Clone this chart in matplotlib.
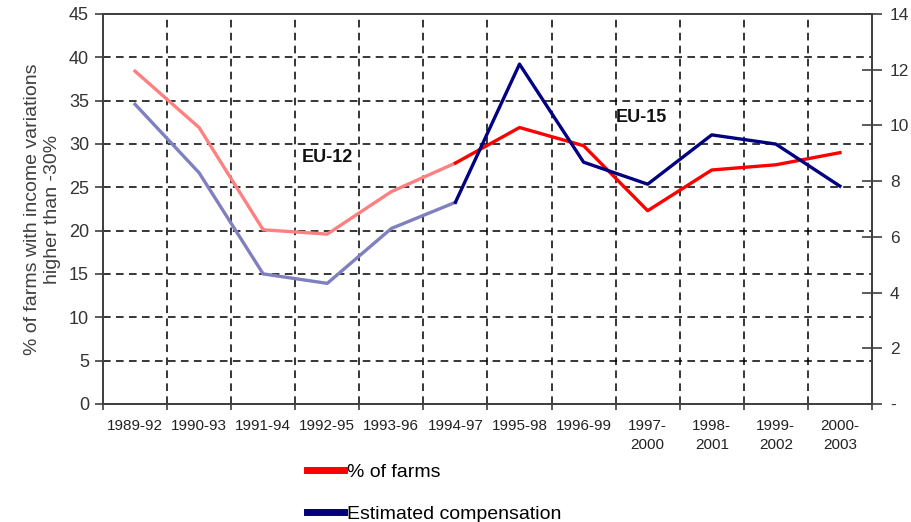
import numpy as np
import matplotlib.pyplot as plt
from matplotlib.lines import Line2D

plt.rcParams['font.family'] = ['Liberation Sans', 'DejaVu Sans']

periods = ['1989-92', '1990-93', '1991-94', '1992-95', '1993-96', '1994-97',
           '1995-98', '1996-99', '1997-\n2000', '1998-\n2001', '1999-\n2002', '2000-\n2003']

# share of farms with income drop beyond -30% (left axis)
pct_farms = [38.4, 31.9, 20.1, 19.6, 24.5, 27.8, 31.9, 29.8, 22.3, 27.0, 27.6, 29.0]
# estimated compensation (right axis)
compensation = [10.76, 8.3, 4.67, 4.33, 6.3, 7.24, 12.2, 8.68, 7.89, 9.66, 9.33, 7.82]

eu12_end = 5  # last EU-12 period index (1994-97)

red_light, red_dark = '#ff8080', '#ff0000'
blue_light, blue_dark = '#8080c0', '#000080'
axis_col = '#404040'

fig = plt.figure(figsize=(9.12, 5.22), dpi=100)
ax = fig.add_axes([0.1129, 0.2261, 0.8432, 0.7471])
ax2 = ax.twinx()

x = np.arange(len(periods))

ax.plot(x[:eu12_end + 1], pct_farms[:eu12_end + 1], color=red_light, lw=2.4, zorder=3)
ax.plot(x[eu12_end:], pct_farms[eu12_end:], color=red_dark, lw=2.4, zorder=3)
ax2.plot(x[:eu12_end + 1], compensation[:eu12_end + 1], color=blue_light, lw=2.4, zorder=3)
ax2.plot(x[eu12_end:], compensation[eu12_end:], color=blue_dark, lw=2.4, zorder=3)

ax.set_xlim(-0.5, len(periods) - 0.5)
ax.set_ylim(0, 45)
ax2.set_ylim(0, 14)

# dashed grid: horizontal on left ticks, vertical on period boundaries
for v in range(5, 45, 5):
    ax.axhline(v, color='black', lw=1.1, ls=(0, (5, 3.5)), zorder=1)
for b in np.arange(0.5, len(periods) - 1, 1.0):
    ax.axvline(b, color='black', lw=1.1, ls=(0, (5, 3.5)), zorder=1)

ax.set_yticks(range(0, 46, 5))
ax.tick_params(axis='y', direction='out', length=6, width=1.2, colors=axis_col,
               labelsize=13, labelcolor='#333333', pad=4)

# x ticks sit on period boundaries, labels at centers
ax.set_xticks(np.arange(-0.5, len(periods), 1.0))
ax.set_xticklabels([])
ax.set_xticks(x, minor=True)
ax.set_xticklabels(periods, minor=True, fontsize=11, color='#222222', linespacing=1.45)
ax.tick_params(axis='x', which='major', direction='inout', length=9, width=1.2, colors=axis_col)
ax.tick_params(axis='x', which='minor', length=0, pad=11)

ax2.set_yticks(range(0, 15, 2))
ax2.set_yticklabels(['-'] + [str(v) for v in range(2, 15, 2)])
ax2.tick_params(axis='y', direction='inout', length=14, width=1.2, colors=axis_col,
                labelsize=12.5, labelcolor='#333333', pad=6)

for a in (ax, ax2):
    for s in a.spines.values():
        s.set_color(axis_col)
        s.set_linewidth(1.3)

ax.set_ylabel('% of farms with income variations\nhigher than -30%', fontsize=14,
              color='#404040', labelpad=6, linespacing=1.2)

ax.text(3.0, 28.4, 'EU-12', fontsize=13, fontweight='bold', color='#111111',
        ha='center', va='center', zorder=4)
ax.text(7.9, 33.0, 'EU-15', fontsize=13, fontweight='bold', color='#111111',
        ha='center', va='center', zorder=4)

handles = [Line2D([], [], color=red_dark, lw=5), Line2D([], [], color=blue_dark, lw=5)]
fig.legend(handles, ['% of farms', 'Estimated compensation'], loc='upper left',
           bbox_to_anchor=(0.337, 0.112), frameon=False, fontsize=14,
           handlelength=1.9, handletextpad=0.15, labelspacing=1.25,
           borderaxespad=0, borderpad=0)

fig.savefig('out.png', dpi=100)
